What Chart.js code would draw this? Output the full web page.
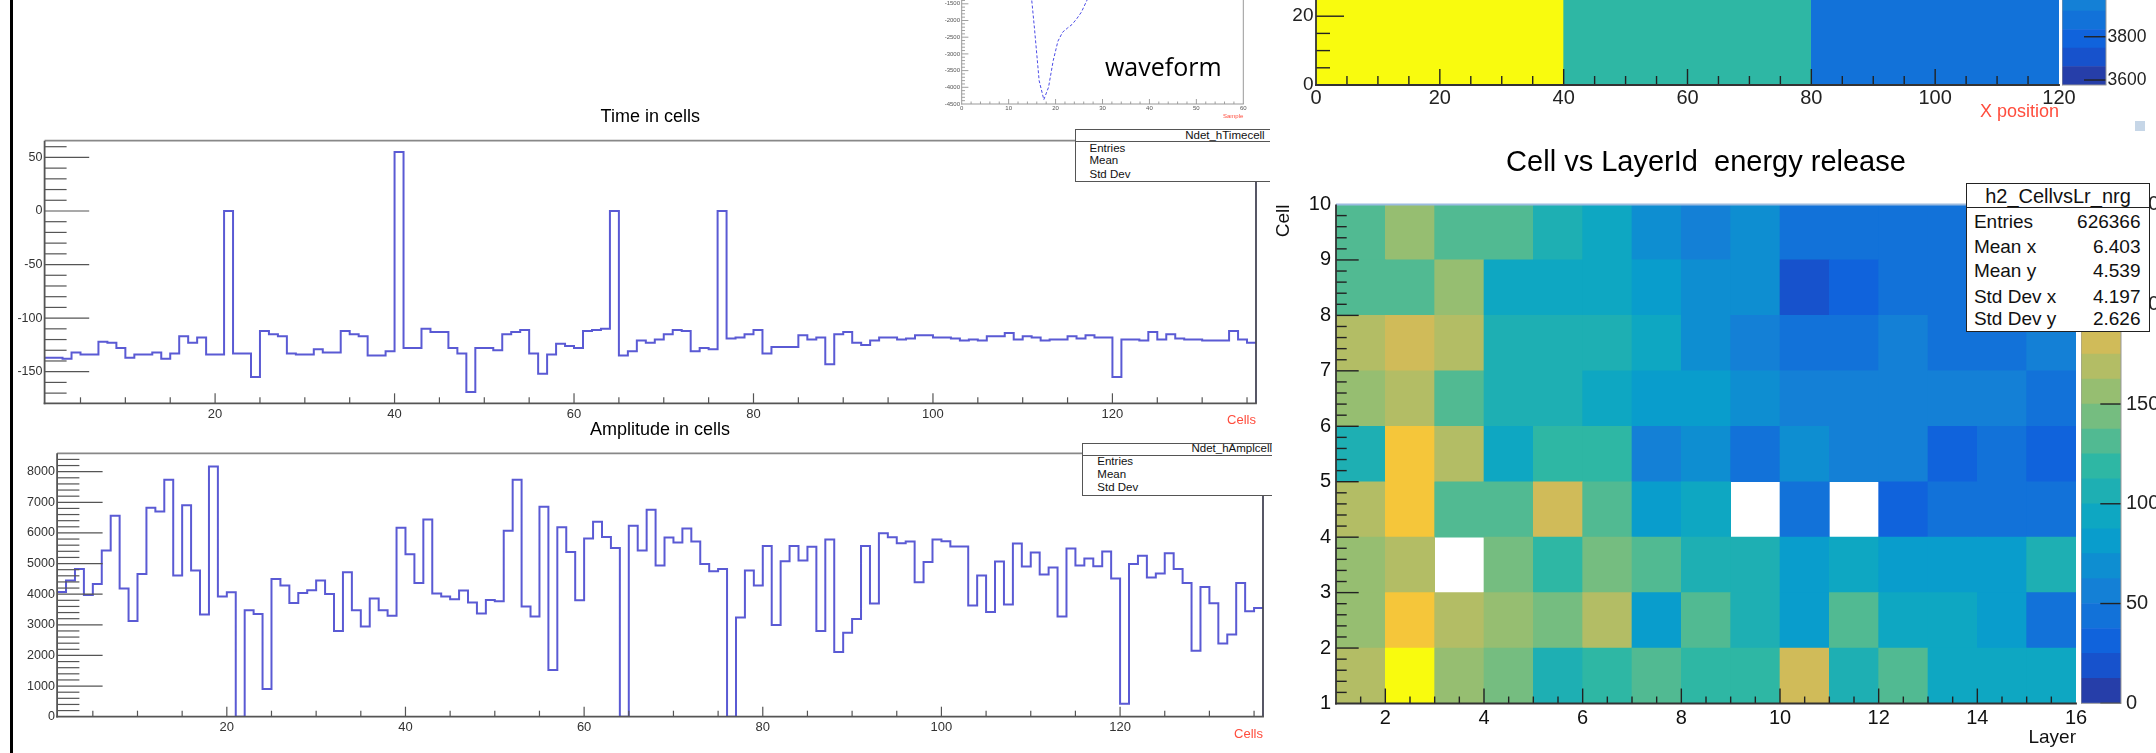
<!DOCTYPE html>
<html lang="en">
<head>
<meta charset="utf-8">
<title>Ndet cells and layer energy</title>
<script src="https://cdn.jsdelivr.net/npm/chart.js@4.4.1/dist/chart.umd.min.js"></script>
<style>
  html, body { margin: 0; padding: 0; background: #fff; }
  body { position: relative; width: 2156px; height: 753px; overflow: hidden;
         font-family: "Liberation Sans", Arial, Helvetica, sans-serif; }
  canvas { position: absolute; }
  .edge { position: absolute; left: 10px; top: 0; width: 2.5px; height: 753px; background: #000; }
  .note { position: absolute; font-family: "Open Sans", sans-serif; font-size: 25px; line-height: 1; color: #000; }
  .chip { position: absolute; left: 2135px; top: 121px; width: 10px; height: 10px; background: #c6d6e7; }
  .stats { position: absolute; z-index: 5; box-sizing: border-box; background: #fff;
           border: 1.5px solid #555; border-right: none; overflow: hidden; color: #111; }
  .stats span { position: absolute; line-height: 1; white-space: nowrap; }
  .stats .rule { position: absolute; left: 0; right: 0; height: 0; border-top: 1.5px solid #555; }
  .stats.h2 { border: 1.5px solid #222; }
  .stats.h2 .rule { border-top-color: #222; }
</style>
</head>
<body>
<div class="edge"></div>

<canvas id="wave" width="322" height="204" style="left:932px;top:-83px"></canvas>
<div class="note" style="left:1105px;top:53.8px">waveform</div>

<canvas id="time" width="1266" height="334" style="left:0;top:100px"></canvas>
<canvas id="ampl" width="1273" height="337" style="left:0;top:410px"></canvas>

<canvas id="xpos" width="801" height="230" style="left:1280px;top:-107px"></canvas>
<canvas id="xposz" width="140" height="410" style="left:2062px;top:-305px"></canvas>
<div class="chip"></div>

<canvas id="cells" width="820" height="623" style="left:1272px;top:130px"></canvas>
<canvas id="cellsz" width="120" height="539" style="left:2081px;top:185px"></canvas>

<div class="stats" style="left:1075.4px;top:129.3px;width:194.6px;height:52.4px">
  <span style="left:108.8px;top:-0.4px;font-size:11.5px">Ndet_hTimecell</span>
  <div class="rule" style="top:11.2px"></div>
  <span style="left:13.1px;top:12.4px;font-size:11.5px">Entries</span>
  <span style="left:13.1px;top:25.1px;font-size:11.5px">Mean</span>
  <span style="left:13.1px;top:38.4px;font-size:11.5px">Std Dev</span>
</div>

<div class="stats" style="left:1082px;top:442.7px;width:190px;height:53px">
  <span style="left:108.5px;top:-0.4px;font-size:11.5px">Ndet_hAmplcell</span>
  <div class="rule" style="top:11.8px"></div>
  <span style="left:14.3px;top:12.4px;font-size:11.5px">Entries</span>
  <span style="left:14.3px;top:24.9px;font-size:11.5px">Mean</span>
  <span style="left:14.3px;top:38.4px;font-size:11.5px">Std Dev</span>
</div>

<div class="stats h2" style="left:1966px;top:183.3px;width:184px;height:148.4px">
  <span style="left:0;right:0;text-align:center;top:1.9px;font-size:20px">h2_CellvsLr_nrg</span>
  <div class="rule" style="top:22.8px"></div>
  <span style="left:6.9px;top:27.4px;font-size:19px">Entries</span>
  <span style="right:8.5px;top:27.4px;font-size:19px">626366</span>
  <span style="left:6.9px;top:52.4px;font-size:19px">Mean x</span>
  <span style="right:8.5px;top:52.4px;font-size:19px">6.403</span>
  <span style="left:6.9px;top:76.4px;font-size:19px">Mean y</span>
  <span style="right:8.5px;top:76.4px;font-size:19px">4.539</span>
  <span style="left:6.9px;top:102.4px;font-size:19px">Std Dev x</span>
  <span style="right:8.5px;top:102.4px;font-size:19px">4.197</span>
  <span style="left:6.9px;top:125px;font-size:19px">Std Dev y</span>
  <span style="right:8.5px;top:125px;font-size:19px">2.626</span>
</div>

<script>
"use strict";

// ---- values ----

// Time in cells, bins 1..135 (low edge = 1)
const timeCells = [
  -137, -137, -138, -132, -134, -134, -122, -123, -128, -137,
  -134, -134, -132, -138, -133, -117, -123, -118, -134, -134,
  0, -133, -133, -155, -112, -115, -117, -133, -134, -134,
  -129, -132, -132, -112, -115, -117, -135, -135, -131, 55,
  -128, -128, -110, -113, -113, -128, -133, -169, -128, -128,
  -130, -115, -113, -111, -133, -152, -134, -124, -126, -128,
  -112, -111, -110, 0, -135, -131, -121, -123, -120, -115,
  -111, -112, -131, -128, -129, 0, -119, -118, -115, -111,
  -133, -127, -127, -127, -116, -120, -118, -143, -115, -113,
  -123, -125, -121, -118, -118, -120, -119, -116, -116, -118,
  -118, -119, -121, -120, -121, -117, -117, -114, -120, -117,
  -118, -121, -120, -120, -117, -119, -116, -118, -118, -155,
  -120, -120, -121, -113, -120, -115, -119, -120, -120, -121,
  -121, -121, -112, -120, -123
];

// Amplitude in cells, same binning
const amplCells = [
  4074, 4444, 4826, 3976, 4335, 5425, 6558, 4183, 3126, 4662,
  6819, 6700, 7734, 4608, 6906, 4771, 3333, 8170, 3922, 4063,
  0, 3475, 3355, 904, 4499, 4281, 3715, 4041, 4128, 4444,
  4009, 2800, 4717, 3475, 2941, 3856, 3475, 3300, 6166, 5305,
  4368, 6438, 4020, 3922, 3834, 4118, 3725, 3366, 3813, 3769,
  6068, 7734, 3595, 3268, 6852, 1525, 6187, 5381, 3802, 5817,
  6362, 5871, 5512, 0, 6231, 5425, 6754, 4935, 5850, 5686,
  6144, 5719, 4989, 4749, 4826, 0, 3235, 4771, 4281, 5577,
  2996, 5076, 5577, 5098, 5545, 2800, 5784, 2113, 2745, 3192,
  5577, 3693, 5991, 5861, 5664, 5719, 4390, 5054, 5784, 5730,
  5556, 5556, 3627, 4608, 3420, 5065, 3660, 5654, 4902, 5359,
  4641, 4869, 3268, 5490, 4935, 5163, 4913, 5392, 4510, 425,
  4989, 5251, 4542, 4673, 5338, 4826, 4368, 2157, 4237, 3704,
  2386, 2680, 4368, 3442, 3551
];
const cellFirstEdge = 1;

// waveform, one value per sample (drawn at the sample centre)
const waveSamples = [
  3, -2, 1, 4, -3, 0, 2, -1, -4, 3, 1, -2, -35, -150, -780, -2230, -3800, -4370, -4000, -3200,
  -2620, -2350, -2230, -2120, -1950, -1750, -1450, -1160, -900, -680, -500, -360, -250, -170, -110, -70, -45, -28, -16, -9,
  -5, -2, 1, -3, 2, 0, -1, 3, -2, 1, 0, 2, -1, -3, 1, 2, -2, 0, 1, -1
];

// Cell vs LayerId energy release: rows are cells 1..9, columns layers 1..15
const layerBins = [1, 2, 3, 4, 5, 6, 7, 8, 9, 10, 11, 12, 13, 14, 15];
const cellBins = [1, 2, 3, 4, 5, 6, 7, 8, 9];
const cellEnergy = [
  [168, 247, 157, 143, 107, 118, 130, 120, 121, 182, 105, 132, 95, 93, 94],
  [155, 207, 170, 156, 145, 167, 80, 131, 108, 82, 129, 95, 93, 81, 45],
  [157, 168, 0, 144, 118, 143, 132, 107, 106, 83, 94, 80, 82, 81, 106],
  [169, 205, 131, 133, 181, 130, 82, 95, 0, 44, 0, 31, 45, 44, 43],
  [106, 206, 168, 94, 119, 120, 56, 70, 44, 69, 57, 56, 31, 44, 32],
  [157, 169, 131, 107, 106, 94, 82, 81, 69, 57, 56, 55, 57, 56, 44],
  [168, 182, 169, 106, 107, 105, 94, 69, 57, 44, 45, 56, 44, 43, 56],
  [131, 130, 156, 94, 95, 93, 82, 69, 70, 19, 31, 44, 44, 45, 44],
  [130, 157, 131, 132, 107, 94, 69, 57, 69, 44, 45, 44, 43, 44, 45]
];
const energyRange = [0, 250];

// top panel (X position), cut by the picture edge
const xPosEdges = [0, 40, 80, 120];
const yPosEdges = [0, 50];
const xPosValues = [5287, 4390, 3880];
const xPosRange = [3577, 5287];

// tick labels
const cellAxisTicks = [20, 40, 60, 80, 100, 120];
const timeTicks = [-150, -100, -50, 0, 50];
const amplTicks = [0, 1000, 2000, 3000, 4000, 5000, 6000, 7000, 8000];
const sampleTicks = [0, 10, 20, 30, 40, 50, 60];
const waveTicks = [-4500, -4000, -3500, -3000, -2500, -2000, -1500, -1000, -500, 0];
const layerTicks = [2, 4, 6, 8, 10, 12, 14, 16];
const cellTicks = [1, 2, 3, 4, 5, 6, 7, 8, 9, 10];
const energyTicks = [0, 50, 100, 150, 200, 250];
const xPosTicks = [0, 20, 40, 60, 80, 100, 120];
const yPosTicks = [0, 20, 40];
const xPosZTicks = [3600, 3800, 4000, 4200, 4400, 4600, 4800, 5000, 5200];

// ---- ROOT "bird" palette, 20 contour bands ----
const birdStops = [0.0, 0.125, 0.25, 0.375, 0.5, 0.625, 0.75, 0.875, 1.0];
const birdRed   = [0.2082, 0.0592, 0.0780, 0.0232, 0.1802, 0.5301, 0.8186, 0.9956, 0.9764];
const birdGreen = [0.1664, 0.3599, 0.5041, 0.6419, 0.7178, 0.7492, 0.7328, 0.7862, 0.9832];
const birdBlue  = [0.5293, 0.8684, 0.8385, 0.7914, 0.6425, 0.4662, 0.3499, 0.1968, 0.0539];
const NCONT = 20;

function bird(f) {
  let k = 0;
  while (k < birdStops.length - 2 && f > birdStops[k + 1]) k++;
  const t = (f - birdStops[k]) / (birdStops[k + 1] - birdStops[k]);
  const mix = a => Math.round(255 * (a[k] + (a[k + 1] - a[k]) * t));
  return `rgb(${mix(birdRed)},${mix(birdGreen)},${mix(birdBlue)})`;
}

function zColor(v, range) {
  if (!(v > 0)) return 'rgba(255,255,255,0)';   // empty bins stay blank
  const band = Math.floor((v - range[0]) / (range[1] - range[0]) * NCONT);
  return bird((Math.min(NCONT - 1, Math.max(0, band)) + 0.99) / NCONT);
}

// ---- chart helpers ----
Chart.defaults.font.family = '"Liberation Sans", Arial, Helvetica, sans-serif';
Chart.defaults.color = '#222';
Chart.defaults.animation = false;
Chart.defaults.responsive = false;
Chart.defaults.layout.autoPadding = false;
Chart.defaults.plugins.legend.display = false;
Chart.defaults.plugins.tooltip.enabled = false;

const RED = '#ff4d3d';
const HIST = '#5a5ad4';

const fixedTicks = list => scale => { scale.ticks = list.map(value => ({ value })); };
const plain = v => String(v);
const width = w => s => { s.width = w; };
const height = h => s => { s.height = h; };

function axis(extra) {
  return Object.assign({
    grid: { display: false, drawTicks: false },
    border: { display: false },
    bounds: 'data'
  }, extra);
}

function histPoints(values, firstEdge) {
  const pts = values.map((v, i) => ({ x: firstEdge + i, y: v }));
  pts.push({ x: firstEdge + values.length, y: values[values.length - 1] });
  return pts;
}

// ROOT style frame and inside tick marks, placed with the chart's own scales
const rootFrame = {
  id: 'rootFrame',
  afterDatasetsDraw(chart, args, opts) {
    const { ctx, chartArea: a, scales } = chart;
    const seg = (x1, y1, x2, y2, color, w) => {
      ctx.strokeStyle = color;
      ctx.lineWidth = w;
      ctx.beginPath();
      ctx.moveTo(x1, y1);
      ctx.lineTo(x2, y2);
      ctx.stroke();
    };
    const marks = (spec, scale, draw) => {
      if (!spec) return;
      for (let k = 0; ; k++) {
        const v = spec.from + k * spec.step;
        if (v > spec.to + spec.step / 1000) break;
        const q = v / spec.major;
        draw(scale.getPixelForValue(v), Math.abs(q - Math.round(q)) < 1e-6 ? spec.majorLen : spec.minorLen);
      }
    };
    ctx.save();
    const tc = opts.tickColor || '#555';
    const tw = opts.tickWidth || 1.2;
    marks(opts.x, scales.x, (px, len) => seg(px, a.bottom, px, a.bottom - len, tc, tw));
    marks(opts.y, scales.y, (py, len) => opts.y.right
      ? seg(a.right, py, a.right - len, py, tc, tw)
      : seg(a.left, py, a.left + len, py, tc, tw));
    const f = opts.frame || {};
    const fw = f.width || 1.5;
    if (f.top) seg(a.left, a.top, a.right, a.top, f.top, fw);
    if (f.right) seg(a.right, a.top, a.right, a.bottom, f.right, fw);
    if (f.bottom) seg(a.left - fw / 2, a.bottom, a.right + fw / 2, a.bottom, f.bottom, fw);
    if (f.left) seg(a.left, a.top, a.left, a.bottom + fw / 2, f.left, fw);
    ctx.restore();
  }
};

function histChart(id, values, opts) {
  return new Chart(document.getElementById(id), {
    type: 'line',
    data: {
      datasets: [{
        data: histPoints(values, cellFirstEdge),
        borderColor: HIST, borderWidth: 2, pointRadius: 0,
        stepped: 'before', fill: false, tension: 0
      }]
    },
    options: {
      layout: { padding: { right: 10 } },
      plugins: {
        title: {
          display: true, text: opts.title, fullSize: false, color: '#000',
          font: { size: 18, weight: 'normal' }, padding: opts.titlePad
        },
        rootFrame: {
          tickColor: '#555', tickWidth: 1.2,
          x: { from: 5, to: 135, step: 5, major: 20, majorLen: 10, minorLen: 6 },
          y: opts.yMarks,
          frame: { left: '#555', bottom: '#555', top: '#888', right: '#445', width: 1.8 }
        }
      },
      scales: {
        x: axis({
          type: 'linear', min: cellFirstEdge, max: cellFirstEdge + values.length, offset: false,
          afterFit: height(opts.xHeight), afterBuildTicks: fixedTicks(cellAxisTicks),
          ticks: { callback: plain, color: '#333', font: { size: 13 }, padding: 3, maxRotation: 0, autoSkip: false },
          title: { display: true, text: 'Cells', align: 'end', color: RED, font: { size: 13 },
                   padding: { top: 0, bottom: opts.cellsPad } }
        }),
        y: axis({
          type: 'linear', min: opts.yMin, max: opts.yMax,
          afterFit: width(opts.yWidth), afterBuildTicks: fixedTicks(opts.yTicks),
          ticks: { callback: plain, color: '#333', font: { size: 12.5 }, padding: 2.2, autoSkip: false }
        })
      }
    },
    plugins: [rootFrame]
  });
}

function paletteChart(id, range, tickList, o) {
  const levels = [];
  for (let i = 0; i <= NCONT; i++) levels.push(range[0] + (range[1] - range[0]) * i / NCONT);
  return new Chart(document.getElementById(id), {
    type: 'bar',
    data: {
      labels: ['z'],
      datasets: levels.slice(0, NCONT).map((lo, i) => ({
        data: [[lo, levels[i + 1]]],
        backgroundColor: bird((i + 0.99) / NCONT),
        grouped: false, barPercentage: 1, categoryPercentage: 1, borderWidth: 0
      }))
    },
    options: {
      layout: { padding: o.pad },
      plugins: {
        rootFrame: {
          tickColor: '#222', tickWidth: 1.4,
          y: { from: tickList[0], to: tickList[tickList.length - 1], step: tickList[1] - tickList[0],
               major: tickList[1] - tickList[0], majorLen: o.tickLen, minorLen: o.tickLen, right: true },
          frame: { top: '#999', right: '#999', bottom: '#999', left: '#999', width: 1 }
        }
      },
      scales: {
        x: { display: false },
        y: axis({
          position: 'right', type: 'linear', min: range[0], max: range[1], stacked: false,
          afterFit: width(o.yWidth), afterBuildTicks: fixedTicks(tickList),
          ticks: { callback: plain, color: '#222', font: { size: o.font }, padding: o.labelPad, autoSkip: false }
        })
      }
    },
    plugins: [rootFrame]
  });
}

// ---- waveform inset ----
new Chart(document.getElementById('wave'), {
  type: 'line',
  data: {
    datasets: [{
      data: waveSamples.map((v, i) => ({ x: i + 0.5, y: v })),
      borderColor: '#4b4be6', borderWidth: 1, borderDash: [3, 2], pointRadius: 0, fill: false
    }]
  },
  options: {
    layout: { padding: { top: 20, right: 10.7 } },
    plugins: {
      rootFrame: {
        tickColor: '#888', tickWidth: 0.8,
        x: { from: 2, to: 58, step: 2, major: 10, majorLen: 5, minorLen: 2.5 },
        y: { from: -4400, to: 400, step: 100, major: 500, majorLen: 6.7, minorLen: 3.3 },
        frame: { left: '#999', bottom: '#999', right: '#999', width: 1 }
      }
    },
    scales: {
      x: axis({
        type: 'linear', min: 0, max: 60, afterFit: height(17), afterBuildTicks: fixedTicks(sampleTicks),
        ticks: { callback: plain, color: '#555', font: { size: 6 }, padding: 1, maxRotation: 0, autoSkip: false },
        title: { display: true, text: 'Sample', align: 'end', color: RED, font: { size: 6 }, padding: { top: 0, bottom: 0.7 } }
      }),
      y: axis({
        type: 'linear', min: -4500, max: 500, afterFit: width(29.7), afterBuildTicks: fixedTicks(waveTicks),
        ticks: { callback: plain, color: '#555', font: { size: 6 }, padding: 1.7, autoSkip: false }
      })
    }
  },
  plugins: [rootFrame]
});

// ---- Time in cells ----
histChart('time', timeCells, {
  title: 'Time in cells', titlePad: { top: 5.9, bottom: 13.2 },
  yMin: -179.5, yMax: 65.6, yTicks: timeTicks, yWidth: 44.6, xHeight: 30.7, cellsPad: 6.2,
  yMarks: { from: -170, to: 60, step: 10, major: 50, majorLen: 44.6, minorLen: 22 }
});

// ---- Amplitude in cells ----
histChart('ampl', amplCells, {
  title: 'Amplitude in cells', titlePad: { top: 9.2, bottom: 12.5 },
  yMin: 0, yMax: 8600, yTicks: amplTicks, yWidth: 57.1, xHeight: 30.3, cellsPad: 5.2,
  yMarks: { from: 200, to: 8400, step: 200, major: 1000, majorLen: 45.5, minorLen: 22.3 }
});

// ---- top right panel (X position) ----
new Chart(document.getElementById('xpos'), {
  type: 'bar',
  data: {
    datasets: [{
      data: xPosValues.map((v, i) => ({ x: (xPosEdges[i] + xPosEdges[i + 1]) / 2, y: yPosEdges })),
      backgroundColor: xPosValues.map(v => zColor(v, xPosRange)),
      barThickness: 'flex', barPercentage: 1, categoryPercentage: 1, borderWidth: 0
    }]
  },
  options: {
    layout: { padding: { top: 20, right: 22 } },
    plugins: {
      rootFrame: {
        tickColor: '#222', tickWidth: 1.4,
        x: { from: 5, to: 115, step: 5, major: 20, majorLen: 16, minorLen: 9 },
        y: { from: 5, to: 45, step: 5, major: 20, majorLen: 28, minorLen: 14 },
        frame: { left: '#333', bottom: '#333', width: 1.8 }
      }
    },
    scales: {
      x: axis({
        type: 'linear', min: 0, max: 120, offset: false, afterFit: height(38), afterBuildTicks: fixedTicks(xPosTicks),
        ticks: { callback: plain, color: '#222', font: { size: 20 }, padding: 1, maxRotation: 0, autoSkip: false },
        title: { display: true, text: 'X position', align: 'end', color: RED, font: { size: 18 }, padding: { top: 0, bottom: 0.5 } }
      }),
      y: axis({
        type: 'linear', min: 0, max: 50, stacked: false, afterFit: width(36), afterBuildTicks: fixedTicks(yPosTicks),
        ticks: { callback: plain, color: '#222', font: { size: 19 }, padding: 2.5, autoSkip: false }
      })
    }
  },
  plugins: [rootFrame]
});

paletteChart('xposz', xPosRange, xPosZTicks, {
  pad: { top: 20, bottom: 20 }, yWidth: 96, font: 17.5, labelPad: 1.5, tickLen: 22
});

// ---- Cell vs LayerId energy release ----
new Chart(document.getElementById('cells'), {
  type: 'bar',
  data: {
    datasets: cellBins.map((cell, r) => ({
      data: layerBins.map(layer => ({ x: layer + 0.5, y: [cell, cell + 1] })),
      backgroundColor: cellEnergy[r].map(v => zColor(v, energyRange)),
      grouped: false, barPercentage: 1, categoryPercentage: 1, borderWidth: 0
    }))
  },
  options: {
    layout: { padding: { right: 16 } },
    plugins: {
      title: {
        display: true, text: 'Cell vs LayerId  energy release', fullSize: false, color: '#000',
        font: { size: 29, weight: 'normal' }, padding: { top: 15.9, bottom: 23.8 }
      },
      rootFrame: {
        tickColor: '#222', tickWidth: 1.4,
        x: { from: 1.5, to: 15.5, step: 0.5, major: 2, majorLen: 15, minorLen: 7 },
        y: { from: 1.2, to: 9.8, step: 0.2, major: 1, majorLen: 22.7, minorLen: 10.7 },
        frame: { left: '#333', bottom: '#333', top: '#9cbbe0', width: 1.8 }
      }
    },
    scales: {
      x: axis({
        type: 'linear', min: 1, max: 16, offset: false, afterFit: height(49.5), afterBuildTicks: fixedTicks(layerTicks),
        ticks: { callback: plain, color: '#111', font: { size: 20 }, padding: 3, maxRotation: 0, autoSkip: false },
        title: { display: true, text: 'Layer', align: 'end', color: '#111', font: { size: 19 }, padding: { top: 0, bottom: 3.6 } }
      }),
      y: axis({
        type: 'linear', min: 1, max: 10, stacked: false, afterFit: width(64), afterBuildTicks: fixedTicks(cellTicks),
        ticks: { callback: plain, color: '#111', font: { size: 20 }, padding: 5, autoSkip: false },
        title: { display: true, text: 'Cell', align: 'end', color: '#111', font: { size: 19 }, padding: 0 }
      })
    }
  },
  plugins: [rootFrame]
});

paletteChart('cellsz', energyRange, energyTicks, {
  pad: { top: 19.5, bottom: 20.7 }, yWidth: 80, font: 20, labelPad: 5, tickLen: 20.7
});
</script>
</body>
</html>
